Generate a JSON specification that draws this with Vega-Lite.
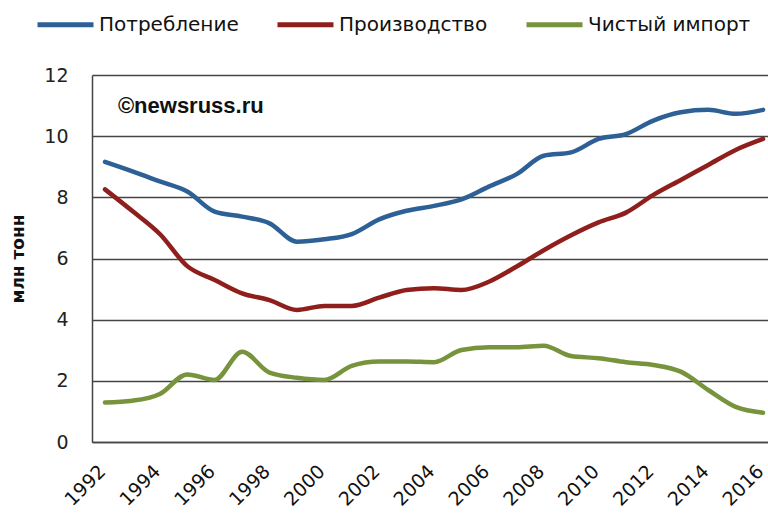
{
  "$schema": "https://vega.github.io/schema/vega-lite/v6.json",
  "width": 676,
  "height": 367,
  "autosize": "none",
  "padding": {"left": 92, "top": 75, "right": 0, "bottom": 75},
  "background": "white",
  "config": {"view": {"stroke": null}},
  "datasets": {
    "series": [
      {"year": 1992, "series": "Потребление", "value": 9.16},
      {"year": 1993, "series": "Потребление", "value": 8.85},
      {"year": 1994, "series": "Потребление", "value": 8.52},
      {"year": 1995, "series": "Потребление", "value": 8.19},
      {"year": 1996, "series": "Потребление", "value": 7.53},
      {"year": 1997, "series": "Потребление", "value": 7.37},
      {"year": 1998, "series": "Потребление", "value": 7.15},
      {"year": 1999, "series": "Потребление", "value": 6.55},
      {"year": 2000, "series": "Потребление", "value": 6.63},
      {"year": 2001, "series": "Потребление", "value": 6.8},
      {"year": 2002, "series": "Потребление", "value": 7.28},
      {"year": 2003, "series": "Потребление", "value": 7.56},
      {"year": 2004, "series": "Потребление", "value": 7.72},
      {"year": 2005, "series": "Потребление", "value": 7.93},
      {"year": 2006, "series": "Потребление", "value": 8.35},
      {"year": 2007, "series": "Потребление", "value": 8.75},
      {"year": 2008, "series": "Потребление", "value": 9.36},
      {"year": 2009, "series": "Потребление", "value": 9.47},
      {"year": 2010, "series": "Потребление", "value": 9.91},
      {"year": 2011, "series": "Потребление", "value": 10.07},
      {"year": 2012, "series": "Потребление", "value": 10.51},
      {"year": 2013, "series": "Потребление", "value": 10.78},
      {"year": 2014, "series": "Потребление", "value": 10.86},
      {"year": 2015, "series": "Потребление", "value": 10.73},
      {"year": 2016, "series": "Потребление", "value": 10.86},
      {"year": 1992, "series": "Производство", "value": 8.26},
      {"year": 1993, "series": "Производство", "value": 7.55},
      {"year": 1994, "series": "Производство", "value": 6.8},
      {"year": 1995, "series": "Производство", "value": 5.75},
      {"year": 1996, "series": "Производство", "value": 5.3},
      {"year": 1997, "series": "Производство", "value": 4.86},
      {"year": 1998, "series": "Производство", "value": 4.64},
      {"year": 1999, "series": "Производство", "value": 4.32},
      {"year": 2000, "series": "Производство", "value": 4.45},
      {"year": 2001, "series": "Производство", "value": 4.45},
      {"year": 2002, "series": "Производство", "value": 4.72},
      {"year": 2003, "series": "Производство", "value": 4.97},
      {"year": 2004, "series": "Производство", "value": 5.03},
      {"year": 2005, "series": "Производство", "value": 4.97},
      {"year": 2006, "series": "Производство", "value": 5.24},
      {"year": 2007, "series": "Производство", "value": 5.73},
      {"year": 2008, "series": "Производство", "value": 6.27},
      {"year": 2009, "series": "Производство", "value": 6.76},
      {"year": 2010, "series": "Производство", "value": 7.18},
      {"year": 2011, "series": "Производство", "value": 7.5},
      {"year": 2012, "series": "Производство", "value": 8.08},
      {"year": 2013, "series": "Производство", "value": 8.57},
      {"year": 2014, "series": "Производство", "value": 9.06},
      {"year": 2015, "series": "Производство", "value": 9.55},
      {"year": 2016, "series": "Производство", "value": 9.91},
      {"year": 1992, "series": "Чистый импорт", "value": 1.29},
      {"year": 1993, "series": "Чистый импорт", "value": 1.35},
      {"year": 1994, "series": "Чистый импорт", "value": 1.57},
      {"year": 1995, "series": "Чистый импорт", "value": 2.21},
      {"year": 1996, "series": "Чистый импорт", "value": 2.03},
      {"year": 1997, "series": "Чистый импорт", "value": 2.95},
      {"year": 1998, "series": "Чистый импорт", "value": 2.27},
      {"year": 1999, "series": "Чистый импорт", "value": 2.1},
      {"year": 2000, "series": "Чистый импорт", "value": 2.03},
      {"year": 2001, "series": "Чистый импорт", "value": 2.49},
      {"year": 2002, "series": "Чистый импорт", "value": 2.63},
      {"year": 2003, "series": "Чистый импорт", "value": 2.63},
      {"year": 2004, "series": "Чистый импорт", "value": 2.61},
      {"year": 2005, "series": "Чистый импорт", "value": 3.01},
      {"year": 2006, "series": "Чистый импорт", "value": 3.1},
      {"year": 2007, "series": "Чистый импорт", "value": 3.1},
      {"year": 2008, "series": "Чистый импорт", "value": 3.15},
      {"year": 2009, "series": "Чистый импорт", "value": 2.81},
      {"year": 2010, "series": "Чистый импорт", "value": 2.74},
      {"year": 2011, "series": "Чистый импорт", "value": 2.61},
      {"year": 2012, "series": "Чистый импорт", "value": 2.52},
      {"year": 2013, "series": "Чистый импорт", "value": 2.3},
      {"year": 2014, "series": "Чистый импорт", "value": 1.7},
      {"year": 2015, "series": "Чистый импорт", "value": 1.15},
      {"year": 2016, "series": "Чистый импорт", "value": 0.96}
    ],
    "note": [
      {"year": 1992.47, "value": 10.98, "label": "©newsruss.ru"}
    ]
  },
  "layer": [
    {
      "data": {"name": "series"},
      "mark": {"type": "line", "strokeWidth": 4.5, "interpolate": "monotone", "strokeCap": "round", "strokeJoin": "round"},
      "encoding": {
        "x": {
          "field": "year", "type": "quantitative",
          "scale": {"domain": [1991.526, 2016.18], "nice": false, "zero": false},
          "axis": {
            "title": null,
            "values": [1992, 1994, 1996, 1998, 2000, 2002, 2004, 2006, 2008, 2010, 2012, 2014, 2016],
            "format": "d",
            "labelAngle": -45,
            "labelAlign": "right",
            "labelBaseline": "middle",
            "labelFont": "DejaVu Sans",
            "labelFontSize": 19,
            "labelColor": "#111111",
            "labelPadding": 26,
            "labelOffset": -3,
            "labelFlush": false,
            "labelOverlap": false,
            "labelBound": false,
            "ticks": false,
            "grid": false,
            "domainColor": "#444444",
            "domainWidth": 1.5
          }
        },
        "y": {
          "field": "value", "type": "quantitative",
          "scale": {"domain": [0, 12], "nice": false},
          "axis": {
            "title": "млн тонн",
            "titleFont": "DejaVu Sans",
            "titleFontSize": 17,
            "titleFontWeight": "bold",
            "titleColor": "#111111",
            "titlePadding": 16,
            "values": [0, 2, 4, 6, 8, 10, 12],
            "labelFont": "DejaVu Sans",
            "labelFontSize": 19,
            "labelColor": "#222222",
            "labelPadding": 24,
            "ticks": false,
            "grid": true,
            "gridColor": "#444444",
            "gridWidth": 1.5,
            "domainColor": "#444444",
            "domainWidth": 1.5
          }
        },
        "color": {
          "field": "series", "type": "nominal",
          "scale": {
            "domain": ["Потребление", "Производство", "Чистый импорт"],
            "range": ["#2d6095", "#8f1f1d", "#77933c"]
          },
          "legend": {
            "title": null,
            "orient": "none",
            "direction": "horizontal",
            "legendX": -57,
            "legendY": -81,
            "symbolType": "stroke",
            "symbolSize": 3136,
            "symbolStrokeWidth": 5,
            "labelFont": "DejaVu Sans",
            "labelFontSize": 20,
            "labelColor": "#111111",
            "labelOffset": 3,
            "columnPadding": 28,
            "labelLimit": 400
          }
        }
      }
    },
    {
      "data": {"name": "note"},
      "mark": {"type": "text", "align": "left", "baseline": "middle", "font": "Liberation Sans", "fontSize": 22, "fontWeight": "bold", "color": "#111111"},
      "encoding": {
        "x": {"field": "year", "type": "quantitative"},
        "y": {"field": "value", "type": "quantitative"},
        "text": {"field": "label"}
      }
    }
  ]
}
